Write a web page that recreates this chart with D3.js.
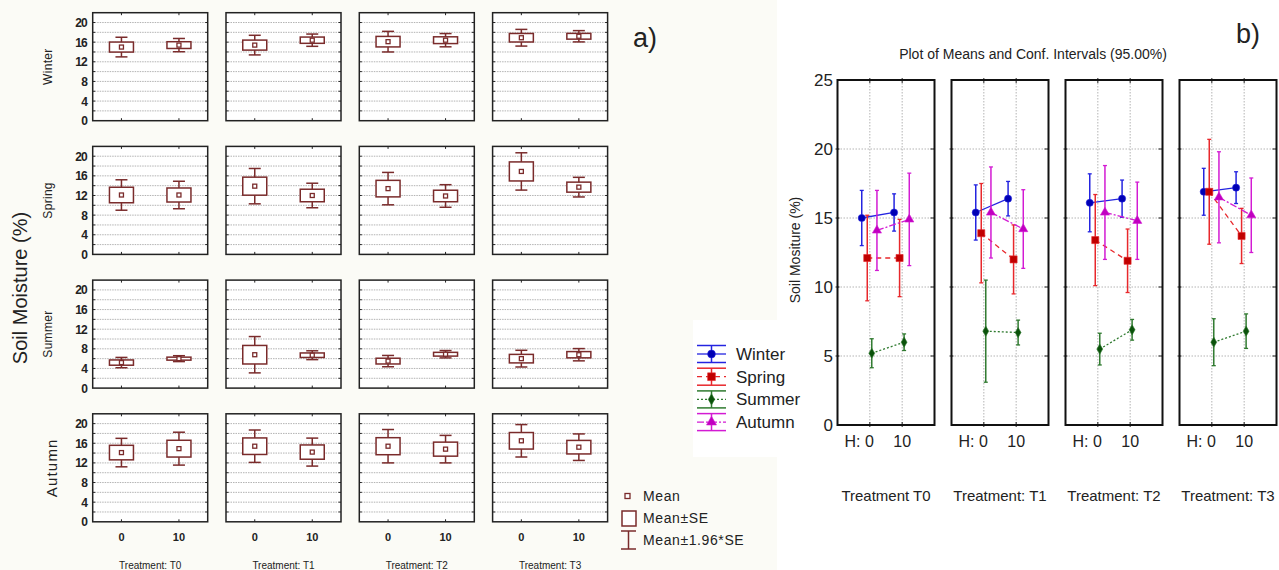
<!DOCTYPE html>
<html>
<head>
<meta charset="utf-8">
<script src="https://cdn.jsdelivr.net/npm/d3@7"></script>
<style>
body{margin:0;background:#fbfbf6;font-family:"Liberation Sans",Arial,sans-serif;}
svg{display:block;}
</style>
</head>
<body>
<script>
var width=1279;
var height=570;

var seasons=["Winter","Spring","Summer","Autumn"];
var treatments=["T0","T1","T2","T3"];
var doses=["0","10"];
var treatLabelsA=["Treatment: T0","Treatment: T1","Treatment: T2","Treatment: T3"];
var treatLabelsB=["Treatment T0","Treatment: T1","Treatment: T2","Treatment: T3"];

// order: T0-0, T0-10, T1-0, T1-10, T2-0, T2-10, T3-0, T3-10
var winterMean=[15.0,15.4,15.4,16.4,16.1,16.4,16.9,17.2];
var winterCI  =[2.0,1.35,2.0,1.25,2.1,1.35,1.7,1.15];
var springMean=[12.1,12.1,13.9,12.0,13.4,11.9,16.9,13.7];
var springCI  =[3.1,2.8,3.6,2.5,3.3,2.3,3.8,2.0];
var summerMean=[5.2,6.0,6.8,6.7,5.5,6.9,6.0,6.8];
var summerCI  =[1.05,0.6,3.7,0.9,1.15,0.75,1.7,1.25];
var autumnMean=[14.1,14.9,15.4,14.2,15.4,14.8,16.5,15.2];
var autumnCI  =[2.9,3.35,3.3,2.85,3.4,2.8,3.3,2.7];

var yTicksA=[0,4,8,12,16,20];
var yTicksB=[0,5,10,15,20,25];

var meanBySeason=[winterMean,springMean,summerMean,autumnMean];
var ciBySeason=[winterCI,springCI,summerCI,autumnCI];

var styles={
	Winter:{line:"#2424e0",mark:"#0000b4",dash:null,shape:d3.symbolCircle,size:40},
	Spring:{line:"#e8282c",mark:"#c00000",dash:"5,4",shape:d3.symbolSquare,size:50},
	Summer:{line:"#2f7a2f",mark:"#0b520b",dash:"2,2",shape:d3.symbolDiamond,size:30},
	Autumn:{line:"#d31bd3",mark:"#c000c0",dash:"7,2,2,2",shape:d3.symbolTriangle,size:36}
};
var offsets=[-0.25,-0.08,0.06,0.22];

var svg=d3.select("body").append("svg")
	.attr("width",width).attr("height",height);

// ---------- panel a ----------
var boxColor="#7a2b2b";
var pwA=115, phA=108;
var leftA=function(c){return 92.7+c*133.3;};
var topA=function(r){return 12.7+r*133.7;};

var gA=svg.append("g");
seasons.forEach(function(season,r){
	var y=d3.scaleLinear().domain([0,22]).range([topA(r)+phA,topA(r)]);
	treatments.forEach(function(t,c){
		var x=d3.scaleLinear().domain([-0.5,1.5]).range([leftA(c),leftA(c)+pwA]);
		var p=gA.append("g");
		p.append("rect").attr("x",leftA(c)).attr("y",topA(r)).attr("width",pwA).attr("height",phA)
			.attr("fill","#fff");
		// dotted grid
		p.selectAll("line.grid").data(d3.range(2,21,2)).enter().append("line")
			.attr("x1",leftA(c)+2).attr("x2",leftA(c)+pwA-2)
			.attr("y1",function(d){return y(d);}).attr("y2",function(d){return y(d);})
			.attr("stroke","#a0a0a0").attr("stroke-width",0.8).attr("stroke-dasharray","1.5,1");
		// ticks on left/right
		p.selectAll("line.tl").data(d3.range(2,21,2)).enter().append("line")
			.attr("x1",leftA(c)).attr("x2",leftA(c)+2.5)
			.attr("y1",function(d){return y(d);}).attr("y2",function(d){return y(d);})
			.attr("stroke","#222");
		p.selectAll("line.tr").data(d3.range(2,21,2)).enter().append("line")
			.attr("x1",leftA(c)+pwA-2.5).attr("x2",leftA(c)+pwA)
			.attr("y1",function(d){return y(d);}).attr("y2",function(d){return y(d);})
			.attr("stroke","#222");
		[0,1].forEach(function(k){
			p.append("line").attr("x1",x(k)).attr("x2",x(k)).attr("y1",topA(r)).attr("y2",topA(r)+2.5).attr("stroke","#222");
			p.append("line").attr("x1",x(k)).attr("x2",x(k)).attr("y1",topA(r)+phA-2.5).attr("y2",topA(r)+phA).attr("stroke","#222");
		});
		// boxes
		[0,1].forEach(function(k){
			var m=meanBySeason[r][c*2+k];
			var ci=ciBySeason[r][c*2+k];
			var se=ci/1.96;
			var cx=x(k);
			p.append("line").attr("x1",cx).attr("x2",cx).attr("y1",y(m+ci)).attr("y2",y(m-ci))
				.attr("stroke",boxColor).attr("stroke-width",1.5);
			[m+ci,m-ci].forEach(function(v){
				p.append("line").attr("x1",cx-6).attr("x2",cx+6).attr("y1",y(v)).attr("y2",y(v))
					.attr("stroke",boxColor).attr("stroke-width",1.5);
			});
			p.append("rect").attr("x",cx-12).attr("width",24)
				.attr("y",y(m+se)).attr("height",y(m-se)-y(m+se))
				.attr("fill","#fff").attr("stroke",boxColor).attr("stroke-width",1.5);
			p.append("rect").attr("x",cx-2).attr("y",y(m)-2).attr("width",4).attr("height",4)
				.attr("fill","#fff").attr("stroke",boxColor).attr("stroke-width",1.3);
		});
		p.append("rect").attr("x",leftA(c)).attr("y",topA(r)).attr("width",pwA).attr("height",phA)
			.attr("fill","none").attr("stroke","#222").attr("stroke-width",1.5);
		if(r==3){
			[0,1].forEach(function(k){
				p.append("text").attr("x",x(k)).attr("y",541).attr("text-anchor","middle")
					.attr("font-size",11).attr("font-weight","bold").attr("fill","#222").text(doses[k]);
			});
			p.append("text").attr("x",leftA(c)+pwA/2).attr("y",569).attr("text-anchor","middle")
				.attr("font-size",10).attr("fill","#222").text(treatLabelsA[c]);
		}
	});
	// y tick labels
	gA.selectAll(null).data(yTicksA).enter().append("text")
		.attr("x",87).attr("y",function(d){return y(d)+4.5;})
		.attr("text-anchor","end").attr("font-size",12).attr("font-weight","bold")
		.attr("letter-spacing",-0.8).attr("fill","#222").text(function(d){return d;});
	var cy=topA(r)+phA/2;
	gA.append("text").attr("transform","translate("+(r==3?57:52)+","+cy+") rotate(-90)")
		.attr("text-anchor","middle").attr("font-size",r==3?15:12)
		.attr("letter-spacing",r==3?1.2:0.3).attr("fill","#222").text(season);
});
gA.append("text").attr("transform","translate(27,288) rotate(-90)")
	.attr("text-anchor","middle").attr("font-size",20).attr("fill","#222").text("Soil Moisture (%)");
gA.append("text").attr("x",633).attr("y",47).attr("font-size",27).attr("fill","#222").text("a)");

// legend a
var lg=gA.append("g");
lg.append("rect").attr("x",625).attr("y",493.5).attr("width",5).attr("height",5)
	.attr("fill","#fff").attr("stroke",boxColor).attr("stroke-width",1.3);
lg.append("rect").attr("x",622).attr("y",511).attr("width",14).attr("height",15)
	.attr("fill","#fff").attr("stroke",boxColor).attr("stroke-width",1.5);
lg.append("line").attr("x1",621).attr("x2",636).attr("y1",531).attr("y2",531).attr("stroke",boxColor).attr("stroke-width",1.5);
lg.append("line").attr("x1",621).attr("x2",636).attr("y1",549).attr("y2",549).attr("stroke",boxColor).attr("stroke-width",1.5);
lg.append("line").attr("x1",628.5).attr("x2",628.5).attr("y1",531).attr("y2",549).attr("stroke",boxColor).attr("stroke-width",1.5);
[["Mean",501],["Mean\u00b1SE",523],["Mean\u00b11.96*SE",545]].forEach(function(d){
	lg.append("text").attr("x",643).attr("y",d[1]).attr("font-size",14).attr("letter-spacing",0.6)
		.attr("fill","#222").text(d[0]);
});

// ---------- panel b ----------
var gB=svg.append("g");
gB.append("rect").attr("x",777).attr("y",0).attr("width",width-777).attr("height",height).attr("fill","#fff");
gB.append("rect").attr("x",693).attr("y",320).attr("width",84).attr("height",137).attr("fill","#fff");

var pwB=97;
var leftB=function(c){return 837.5+c*114;};
var yB=d3.scaleLinear().domain([0,25]).range([425,80]);

treatments.forEach(function(t,c){
	var x=d3.scaleLinear().domain([-1,2]).range([leftB(c),leftB(c)+pwB]);
	var p=gB.append("g");
	// grid
	p.selectAll(null).data([5,10,15,20]).enter().append("line")
		.attr("x1",leftB(c)).attr("x2",leftB(c)+pwB)
		.attr("y1",function(d){return yB(d);}).attr("y2",function(d){return yB(d);})
		.attr("stroke","#b4b4b4").attr("stroke-dasharray","1.5,1.5");
	p.selectAll(null).data([0,1]).enter().append("line")
		.attr("x1",function(d){return x(d);}).attr("x2",function(d){return x(d);})
		.attr("y1",80).attr("y2",425)
		.attr("stroke","#b4b4b4").attr("stroke-dasharray","1.5,1.5");
	// ticks
	[0,1].forEach(function(k){
		p.append("line").attr("x1",x(k)).attr("x2",x(k)).attr("y1",78).attr("y2",83).attr("stroke","#222");
		p.append("line").attr("x1",x(k)).attr("x2",x(k)).attr("y1",422).attr("y2",427).attr("stroke","#222");
	});
	[5,10,15,20].forEach(function(v){
		p.append("line").attr("x1",leftB(c)+pwB-4).attr("x2",leftB(c)+pwB).attr("y1",yB(v)).attr("y2",yB(v)).attr("stroke","#222");
		p.append("line").attr("x1",leftB(c)-2).attr("x2",leftB(c)+2).attr("y1",yB(v)).attr("y2",yB(v)).attr("stroke","#222");
	});
	// series
	seasons.forEach(function(s,si){
		var st=styles[s];
		var pts=[0,1].map(function(k){
			return {x:x(k+offsets[si]),m:meanBySeason[si][c*2+k],ci:ciBySeason[si][c*2+k]};
		});
		var line=d3.line().x(function(d){return d.x;}).y(function(d){return yB(d.m);});
		p.append("path").attr("d",line(pts)).attr("fill","none")
			.attr("stroke",st.line).attr("stroke-width",1.3)
			.attr("stroke-dasharray",st.dash);
		pts.forEach(function(d){
			p.append("line").attr("x1",d.x).attr("x2",d.x).attr("y1",yB(d.m+d.ci)).attr("y2",yB(d.m-d.ci))
				.attr("stroke",st.line).attr("stroke-width",1.5);
			[d.m+d.ci,d.m-d.ci].forEach(function(v){
				p.append("line").attr("x1",d.x-2).attr("x2",d.x+2).attr("y1",yB(v)).attr("y2",yB(v))
					.attr("stroke",st.line).attr("stroke-width",1.3);
			});
			p.append("path").attr("d",d3.symbol().type(st.shape).size(st.size)())
				.attr("transform","translate("+d.x+","+yB(d.m)+")")
				.attr("fill",st.mark).attr("stroke",st.line).attr("stroke-width",0.6);
		});
	});
	p.append("rect").attr("x",leftB(c)).attr("y",80).attr("width",pwB).attr("height",345)
		.attr("fill","none").attr("stroke","#111").attr("stroke-width",2);
	p.append("text").attr("x",x(0)+4).attr("y",447).attr("text-anchor","end")
		.attr("font-size",16).attr("fill","#222").text("H: "+doses[0]);
	p.append("text").attr("x",x(1)).attr("y",447).attr("text-anchor","middle")
		.attr("font-size",16).attr("fill","#222").text(doses[1]);
	p.append("text").attr("x",leftB(c)+pwB/2).attr("y",501).attr("text-anchor","middle")
		.attr("font-size",15).attr("fill","#222").text(treatLabelsB[c]);
});
gB.selectAll(null).data(yTicksB).enter().append("text")
	.attr("x",833).attr("y",function(d){return yB(d)+6;})
	.attr("text-anchor","end").attr("font-size",17).attr("fill","#222").text(function(d){return d;});
gB.append("text").attr("transform","translate(800,250) rotate(-90)")
	.attr("text-anchor","middle").attr("font-size",14).attr("fill","#222").text("Soil Mositure (%)");
gB.append("text").attr("x",1033).attr("y",59).attr("text-anchor","middle")
	.attr("font-size",14).attr("fill","#222").text("Plot of Means and Conf. Intervals (95.00%)");
gB.append("text").attr("x",1236).attr("y",43).attr("font-size",27).attr("fill","#222").text("b)");

// legend b
var lb=gB.append("g");
seasons.forEach(function(s,i){
	var st=styles[s];
	var cy=354+i*22.7;
	var x0=697,x1=726,xm=711.5;
	[cy-8.5,cy+8.5].forEach(function(v){
		lb.append("line").attr("x1",x0).attr("x2",x1).attr("y1",v).attr("y2",v).attr("stroke",st.line).attr("stroke-width",1.5);
	});
	lb.append("line").attr("x1",xm).attr("x2",xm).attr("y1",cy-8.5).attr("y2",cy+8.5).attr("stroke",st.line).attr("stroke-width",1.5);
	lb.append("line").attr("x1",x0).attr("x2",x1).attr("y1",cy).attr("y2",cy)
		.attr("stroke",st.line).attr("stroke-width",1.3).attr("stroke-dasharray",st.dash);
	lb.append("path").attr("d",d3.symbol().type(st.shape).size(st.size*1.2)())
		.attr("transform","translate("+xm+","+cy+")").attr("fill",st.mark).attr("stroke",st.line).attr("stroke-width",0.6);
	lb.append("text").attr("x",736).attr("y",cy+6).attr("font-size",17).attr("fill","#222").text(s);
});
</script>
</body>
</html>
